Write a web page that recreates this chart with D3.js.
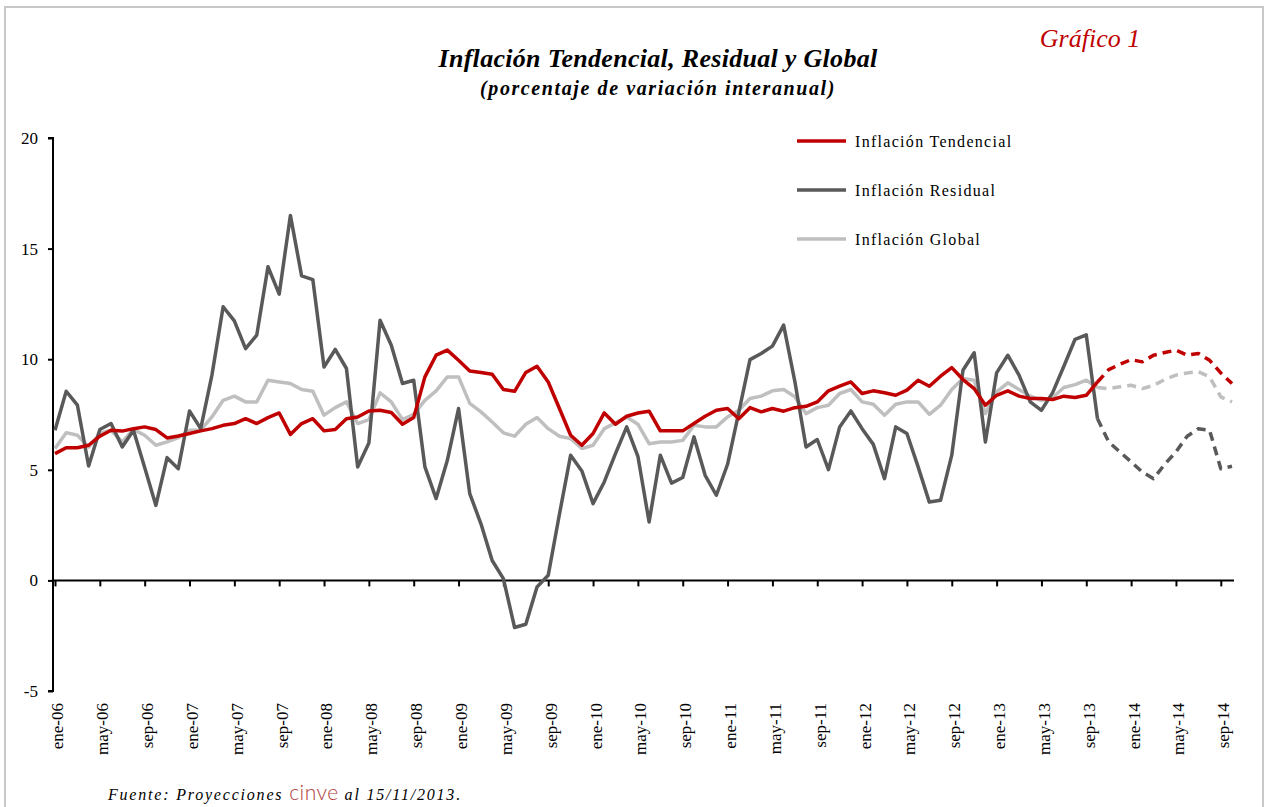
<!DOCTYPE html>
<html lang="es">
<head>
<meta charset="UTF-8">
<script src="https://d3js.org/d3.v7.min.js"></script>
<title>Inflación Tendencial, Residual y Global</title>
<style>
  body { margin: 0; background: #fff; }
  svg text { font-family: "Liberation Serif", "Times New Roman", serif; }
</style>
</head>
<body>
<div id="chart"></div>
<script>
// meses ene-06 .. oct-14
const monthNames = ["ene","feb","mar","abr","may","jun","jul","ago","sep","oct","nov","dic"];
const years = ["06","07","08","09","10","11","12","13","14"];
const nMonths = 106;
const forecastStart = 93; // oct-13, ultimo dato observado

const tendencial = [
  5.73, 6.0, 6.0, 6.11, 6.52, 6.79, 6.75, 6.86, 6.94, 6.82, 6.44, 6.53,
  6.64, 6.76, 6.86, 7.01, 7.09, 7.31, 7.09, 7.36, 7.57, 6.6, 7.09, 7.31,
  6.76, 6.82, 7.31, 7.39, 7.66, 7.69, 7.59, 7.06, 7.36, 9.2, 10.18, 10.41,
  9.95, 9.47, 9.4, 9.32, 8.63, 8.55, 9.4, 9.68, 8.97, 7.77, 6.56, 6.11,
  6.64, 7.57, 7.06, 7.42, 7.57, 7.65, 6.76, 6.76, 6.76, 7.09, 7.42, 7.69,
  7.77, 7.31, 7.81, 7.62, 7.77, 7.65, 7.81, 7.87, 8.07, 8.57, 8.78, 8.97,
  8.45, 8.57, 8.48, 8.37, 8.6, 9.05, 8.78, 9.23, 9.62, 9.08, 8.67, 7.92,
  8.37, 8.57, 8.33, 8.22, 8.22, 8.18, 8.33, 8.27, 8.37, 8.97, 9.53, 9.77,
  9.98, 9.88, 10.18, 10.3, 10.41, 10.18, 10.26, 9.95, 9.38, 8.9
];

const residual = [
  6.79, 8.55, 7.92, 5.17, 6.82, 7.09, 6.03, 6.79, 5.1, 3.39, 5.55, 5.05,
  7.66, 6.86, 9.28, 12.37, 11.73, 10.48, 11.09, 14.18, 12.94, 16.5, 13.77, 13.6,
  9.65, 10.44, 9.58, 5.13, 6.21, 11.76, 10.63, 8.9, 9.05, 5.13, 3.7, 5.43,
  7.77, 3.92, 2.56, 0.9, 0.08, -2.13, -1.98, -0.3, 0.23, 2.99, 5.66, 4.95,
  3.47, 4.45, 5.73, 6.94, 5.61, 2.64, 5.66, 4.4, 4.65, 6.49, 4.75, 3.85,
  5.25, 7.6, 9.98, 10.26, 10.59, 11.54, 9.0, 6.03, 6.37, 5.01, 6.94, 7.66,
  6.86, 6.15, 4.6, 6.94, 6.64, 5.13, 3.54, 3.62, 5.66, 9.5, 10.29, 6.26,
  9.38, 10.18, 9.28, 8.07, 7.69, 8.49, 9.68, 10.9, 11.1, 7.31, 6.26, 5.81,
  5.36, 4.9, 4.6, 5.25, 5.81, 6.52, 6.86, 6.79, 5.05, 5.16
];

const global = [
  5.96, 6.68, 6.56, 6.03, 6.64, 6.79, 6.26, 6.82, 6.56, 6.11, 6.26, 6.46,
  6.79, 6.79, 7.39, 8.14, 8.33, 8.07, 8.07, 9.05, 8.97, 8.9, 8.63, 8.55,
  7.47, 7.81, 8.07, 7.09, 7.27, 8.48, 8.07, 7.27, 7.51, 8.14, 8.57, 9.2,
  9.2, 8.0, 7.62, 7.16, 6.67, 6.52, 7.06, 7.36, 6.86, 6.52, 6.41, 5.96,
  6.11, 6.86, 7.12, 7.39, 7.06, 6.18, 6.26, 6.26, 6.33, 7.01, 6.94, 6.94,
  7.39, 7.69, 8.22, 8.33, 8.57, 8.63, 8.3, 7.54, 7.81, 7.92, 8.45, 8.63,
  8.07, 7.96, 7.47, 7.96, 8.07, 8.07, 7.51, 7.92, 8.63, 9.13, 9.05, 7.54,
  8.52, 8.93, 8.63, 8.33, 8.14, 8.27, 8.72, 8.85, 9.05, 8.72, 8.67, 8.75,
  8.82, 8.67, 8.82, 9.08, 9.28, 9.38, 9.43, 9.2, 8.3, 8.07
];

const yTicks = [-5, 0, 5, 10, 15, 20];

const series = [
  { name: "Inflación Tendencial", values: tendencial, color: "#c00000" },
  { name: "Inflación Residual", values: residual, color: "#595959" },
  { name: "Inflación Global", values: global, color: "#bfbfbf" }
];

const categories = d3.range(nMonths).map(i => monthNames[i % 12] + "-" + years[Math.floor(i / 12)]);

const width = 1269, height = 807;
const svg = d3.select("#chart").append("svg")
    .attr("width", width)
    .attr("height", height);

// marco
svg.append("rect")
    .attr("x", 5).attr("y", 7)
    .attr("width", 1258).attr("height", 810)
    .attr("fill", "none")
    .attr("stroke", "#c8c8c8")
    .attr("stroke-width", 2);

const x = d3.scalePoint(d3.range(nMonths), [55, 1232]);
const y = d3.scaleLinear([-5, 20], [691, 138]);

// eje y
svg.append("g")
    .attr("transform", "translate(53,0)")
    .call(d3.axisLeft(y).tickValues(yTicks).tickSize(5).tickPadding(10).tickFormat(d => String(d)))
    .call(g => g.select(".domain").attr("stroke", "#000").attr("stroke-width", 2).attr("d", "M-5,138H0V691H-5"))
    .call(g => g.selectAll(".tick line").attr("stroke-width", 2))
    .call(g => g.selectAll("text").attr("font-size", 17).attr("fill", "#000")
        .style("font-family", "'Liberation Serif', serif"));

// eje x en cero
const tickIdx = d3.range(0, nMonths, 4);
svg.append("g")
    .attr("transform", `translate(0,${y(0)})`)
    .call(d3.axisBottom(x).tickValues(tickIdx).tickSize(6).tickFormat(""))
    .call(g => g.select(".domain").attr("stroke-width", 2).attr("d", "M53,0H1234"))
    .call(g => g.selectAll(".tick line").attr("stroke-width", 2));

// etiquetas abajo
svg.append("g")
    .attr("transform", "translate(0,700)")
    .call(d3.axisBottom(x).tickValues(tickIdx).tickSize(0).tickFormat(i => categories[i]))
    .call(g => g.select(".domain").remove())
    .call(g => g.selectAll("text")
        .attr("transform", "rotate(-90)")
        .attr("text-anchor", "end")
        .attr("x", -3)
        .attr("y", 2)
        .attr("dy", "0.35em")
        .attr("font-size", 17)
        .attr("fill", "#000")
        .style("font-family", "'Liberation Serif', serif"));

// lineas
const line = d3.line().x(d => x(d[0])).y(d => y(d[1]));
series.slice().reverse().forEach(s => {
  const pts = s.values.map((v, i) => [i, v]);
  svg.append("path")
      .attr("d", line(pts.slice(0, forecastStart + 1)))
      .attr("fill", "none")
      .attr("stroke", s.color)
      .attr("stroke-width", 3.5)
      .attr("stroke-linejoin", "round");
  svg.append("path")
      .attr("d", line(pts.slice(forecastStart)))
      .attr("fill", "none")
      .attr("stroke", s.color)
      .attr("stroke-width", 3.5)
      .attr("stroke-dasharray", "9,6")
      .attr("stroke-linejoin", "round");
});

// leyenda
const legend = svg.append("g");
series.forEach((s, k) => {
  const ly = 141 + k * 49;
  legend.append("line")
      .attr("x1", 797).attr("x2", 846)
      .attr("y1", ly).attr("y2", ly)
      .attr("stroke", s.color).attr("stroke-width", 3.5);
  legend.append("text")
      .attr("x", 855).attr("y", ly)
      .attr("dy", "0.35em")
      .attr("font-size", 16)
      .attr("letter-spacing", 1.3)
      .text(s.name);
});

// titulos
svg.append("text")
    .attr("x", 658).attr("y", 67)
    .attr("text-anchor", "middle")
    .attr("font-size", 26).attr("font-weight", "bold").attr("font-style", "italic")
    .attr("letter-spacing", 0.3)
    .text("Inflación Tendencial, Residual y Global");
svg.append("text")
    .attr("x", 658).attr("y", 95)
    .attr("text-anchor", "middle")
    .attr("font-size", 20).attr("font-weight", "bold").attr("font-style", "italic")
    .attr("letter-spacing", 1.6)
    .text("(porcentaje de variación interanual)");
svg.append("text")
    .attr("x", 1090).attr("y", 47)
    .attr("text-anchor", "middle")
    .attr("font-size", 26).attr("font-style", "italic")
    .attr("fill", "#c00000")
    .text("Gráfico 1");

// fuente
const src = svg.append("text")
    .attr("x", 108).attr("y", 800)
    .attr("font-size", 16).attr("font-style", "italic")
    .attr("letter-spacing", 1.8);
src.append("tspan").text("Fuente: Proyecciones ");
src.append("tspan")
    .attr("font-style", "normal")
    .attr("fill", "#b03a3a")
    .attr("letter-spacing", 0.5)
    .attr("font-size", 21)
    .style("font-family", "Lato, 'DejaVu Sans', sans-serif")
    .style("font-weight", 300)
    .text("cinve");
src.append("tspan").text(" al  15/11/2013.");
</script>
</body>
</html>
